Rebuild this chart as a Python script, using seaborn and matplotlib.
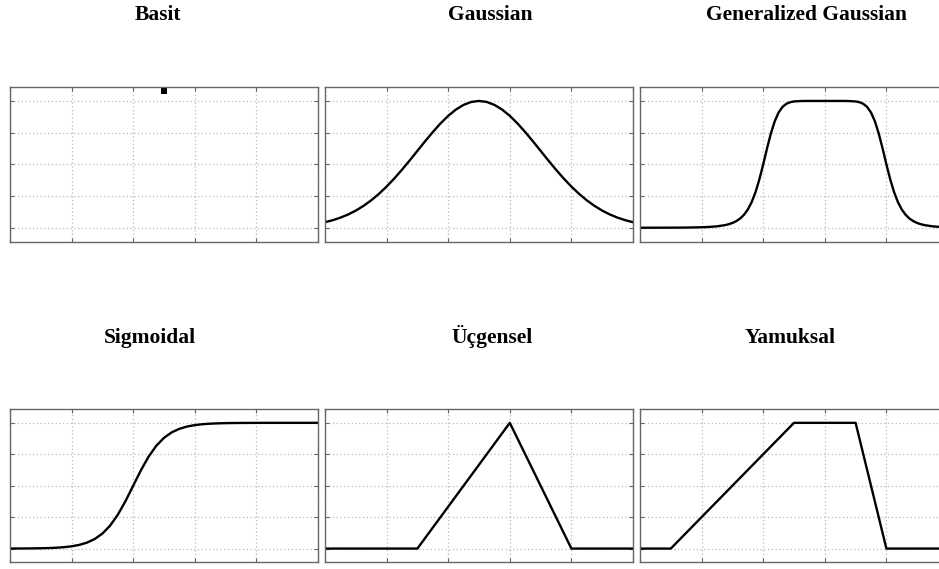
import numpy as np
import pandas as pd
import seaborn as sns
import matplotlib.pyplot as plt

# x sampling shared by the smooth membership curves (0..10 in steps of 0.25)
x_smooth = np.arange(0, 10.001, 0.25)

# Basit (singleton)
basit_x = [5.0]
basit_y = [1.075]

# Gaussian (peak at 5)
gauss_half = [0.0439, 0.0596, 0.0796, 0.1046, 0.1353, 0.1724, 0.2163, 0.2671,
              0.3247, 0.3886, 0.4578, 0.5311, 0.6065, 0.6819, 0.7548, 0.8226,
              0.8825, 0.9321, 0.9692, 0.9922]
gauss_y = gauss_half + [1.0] + gauss_half[::-1]

# Generalized Gaussian (flat top around 6), denser where it bends
gbell_x = [0, 0.5, 1, 1.5, 2, 2.25, 2.5, 2.75, 2.875, 3, 3.125, 3.25, 3.375,
           3.5, 3.625, 3.75, 3.875, 4, 4.125, 4.25, 4.375, 4.5, 4.625, 4.75,
           4.875, 5, 5.25, 5.5, 6, 6.5, 6.75, 7, 7.125, 7.25, 7.375, 7.5,
           7.625, 7.75, 7.875, 8, 8.125, 8.25, 8.375, 8.5, 8.625, 8.75, 8.875,
           9, 9.125, 9.25, 9.5, 9.75, 10]
gbell_y = [0.0002, 0.0003, 0.0007, 0.0015, 0.0039, 0.0065, 0.0112, 0.0202,
           0.0274, 0.0376, 0.0520, 0.0726, 0.1020, 0.1437, 0.2018, 0.2804,
           0.3810, 0.5, 0.6263, 0.7443, 0.8404, 0.9090, 0.9525, 0.9773,
           0.9901, 0.9961, 0.9996, 1.0, 1.0, 1.0, 0.9996, 0.9961, 0.9901,
           0.9773, 0.9525, 0.9090, 0.8404, 0.7443, 0.6263, 0.5, 0.3810,
           0.2804, 0.2018, 0.1437, 0.1020, 0.0726, 0.0520, 0.0376, 0.0274,
           0.0202, 0.0112, 0.0065, 0.0039]

# Sigmoidal (midpoint at 4)
sig_y = [0.0003, 0.0006, 0.0009, 0.0015, 0.0025, 0.0041, 0.0067, 0.0110,
         0.0180, 0.0293, 0.0474, 0.0759, 0.1192, 0.1824, 0.2689, 0.3775,
         0.5, 0.6225, 0.7311, 0.8176, 0.8808, 0.9241, 0.9526, 0.9707, 0.9820,
         0.9890, 0.9933, 0.9959, 0.9975, 0.9985, 0.9991, 0.9994, 0.9997,
         0.9998, 0.9999, 0.9999, 1.0, 1.0, 1.0, 1.0, 1.0]

# Ucgensel (triangle) and Yamuksal (trapezoid) breakpoints
tri_x = [0, 3, 6, 8, 10]
tri_y = [0, 0, 1, 0, 0]
trap_x = [0, 1, 5, 7, 8, 10]
trap_y = [0, 0, 1, 1, 0, 0]

titles = ["Basit", "Gaussian", "Generalized Gaussian",
          "Sigmoidal", "Üçgensel", "Yamuksal"]
title_x = [158, 490, 807, 150, 492, 790]   # pixel centres of the titles
title_base = [20, 20, 20, 343, 343, 343]   # pixel baselines

sns.set_style("white")

W, H = 939, 569
fig = plt.figure(figsize=(W / 100, H / 100), dpi=100)

col_left = [10, 325, 640]
col_w = 308
row_top = [87, 409]
row_h = [154.7, 153.4]

curves = [
    None,
    (x_smooth, gauss_y),
    (gbell_x, gbell_y),
    (x_smooth, sig_y),
    (tri_x, tri_y),
    (trap_x, trap_y),
]

for i in range(6):
    r, c = divmod(i, 3)
    l = col_left[c]
    t = row_top[r]
    h = row_h[r]
    ax = fig.add_axes([l / W, 1 - (t + h) / H, col_w / W, h / H])

    if curves[i] is None:
        sns.scatterplot(x=basit_x, y=basit_y, ax=ax, marker="s", s=14,
                        color="black", edgecolor="black", linewidth=0)
    else:
        cx, cy = curves[i]
        df = pd.DataFrame({"x": cx, "y": cy})
        sns.lineplot(data=df, x="x", y="y", ax=ax, color="black",
                     linewidth=1.7, estimator=None, sort=False)

    ax.set_xlim(0, 10)
    ax.set_ylim(-0.11, 1.11)
    ax.set_xticks([0, 2, 4, 6, 8, 10])
    ax.set_yticks([0, 0.25, 0.5, 0.75, 1.0])
    ax.set_xticklabels([])
    ax.set_yticklabels([])
    ax.set_xlabel("")
    ax.set_ylabel("")
    ax.grid(True, color="#b8b8b8", linestyle=(0, (1, 2)), linewidth=0.9)
    ax.tick_params(direction="in", length=3, width=0.8, color="#666666",
                   top=True, right=True, bottom=True, left=True)
    for sp in ax.spines.values():
        sp.set_visible(True)
        sp.set_color("#666666")
        sp.set_linewidth(1.0)

    fig.text(title_x[i] / W, 1 - title_base[i] / H, titles[i],
             ha="center", va="baseline", fontsize=15.5, fontweight="bold",
             color="black", family=["Liberation Serif", "DejaVu Serif"])

fig.savefig("out.png", dpi=100, facecolor="white")
